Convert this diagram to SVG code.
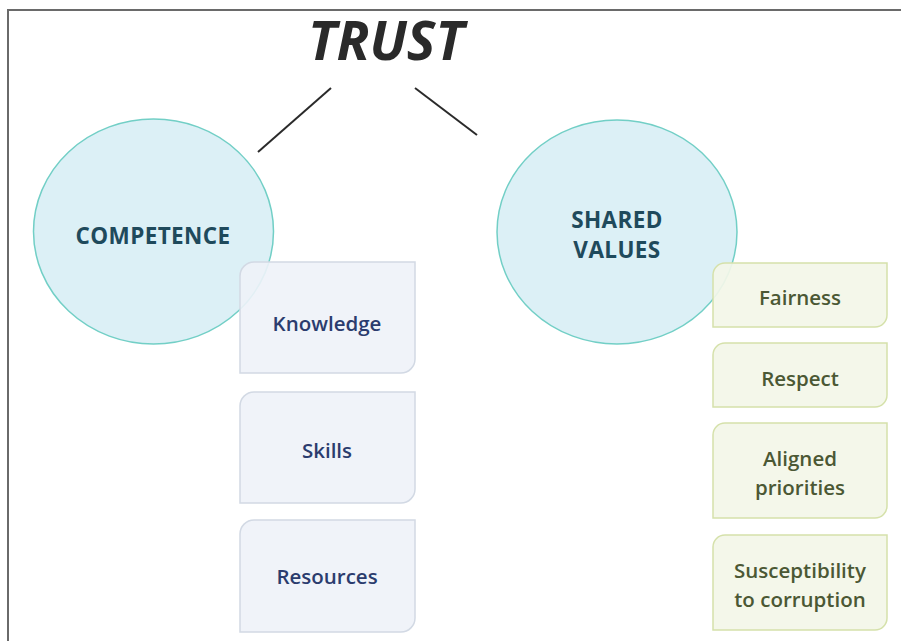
<svg xmlns="http://www.w3.org/2000/svg" width="901" height="641" viewBox="0 0 901 641">
<style>
.frame{stroke:#6a6a6a;stroke-width:2;fill:none}
.circ{fill:#dcf0f6;stroke:#72cfc6;stroke-width:1.5}
.ctext{font-family:"Open Sans","Liberation Sans",sans-serif;font-weight:700;font-size:22.5px;letter-spacing:0.4px;fill:#1f4a5c;text-anchor:middle}
.bbox{fill:#eef2f8;fill-opacity:0.9;stroke:#d2d9e4;stroke-width:1.5}
.btext{font-family:"Open Sans","Liberation Sans",sans-serif;font-weight:600;font-size:20.5px;fill:#2b3c6e;text-anchor:middle}
.gbox{fill:#f3f6e8;fill-opacity:0.92;stroke:#d5e1aa;stroke-width:1.5}
.gtext{font-family:"Open Sans","Liberation Sans",sans-serif;font-weight:600;font-size:20.5px;fill:#4b5834;text-anchor:middle}
.conn{stroke:#2a2a2a;stroke-width:2;fill:none}
</style>
<rect width="901" height="641" fill="#ffffff"/>
<path class="frame" d="M8 641 V10 H901"/>
<g id="trust">
<text x="386" y="60" font-family="Open Sans, Liberation Sans, sans-serif" font-weight="700" font-style="italic" font-size="54" fill="#2a2a2a" text-anchor="middle">TRUST</text>
</g>
<g id="connectors">
<line class="conn" x1="331" y1="88" x2="258" y2="152"/>
<line class="conn" x1="415" y1="88" x2="477" y2="135"/>
</g>
<g id="competence">
<ellipse class="circ" cx="153.5" cy="231.5" rx="120" ry="112.5"/>
<text class="ctext" x="153" y="244">COMPETENCE</text>
</g>
<g id="shared-values">
<ellipse class="circ" cx="617" cy="232" rx="120" ry="112"/>
<text class="ctext" x="617" y="228">SHARED</text>
<text class="ctext" x="617" y="258">VALUES</text>
</g>
<g id="knowledge">
<path class="bbox" d="M254 262 H415 V359 A14 14 0 0 1 401 373 H240 V276 A14 14 0 0 1 254 262 Z"/>
<text class="btext" x="327" y="331">Knowledge</text>
</g>
<g id="skills">
<path class="bbox" d="M254 392 H415 V489 A14 14 0 0 1 401 503 H240 V406 A14 14 0 0 1 254 392 Z"/>
<text class="btext" x="327" y="458">Skills</text>
</g>
<g id="resources">
<path class="bbox" d="M254 520 H415 V618 A14 14 0 0 1 401 632 H240 V534 A14 14 0 0 1 254 520 Z"/>
<text class="btext" x="327" y="584">Resources</text>
</g>
<g id="fairness">
<path class="gbox" d="M725 263 H887 V315 A12 12 0 0 1 875 327 H713 V275 A12 12 0 0 1 725 263 Z"/>
<text class="gtext" x="800" y="305">Fairness</text>
</g>
<g id="respect">
<path class="gbox" d="M725 343 H887 V395 A12 12 0 0 1 875 407 H713 V355 A12 12 0 0 1 725 343 Z"/>
<text class="gtext" x="800" y="386">Respect</text>
</g>
<g id="aligned-priorities">
<path class="gbox" d="M725 423 H887 V506 A12 12 0 0 1 875 518 H713 V435 A12 12 0 0 1 725 423 Z"/>
<text class="gtext" x="800" y="466">Aligned</text>
<text class="gtext" x="800" y="495">priorities</text>
</g>
<g id="susceptibility">
<path class="gbox" d="M725 535 H887 V618 A12 12 0 0 1 875 630 H713 V547 A12 12 0 0 1 725 535 Z"/>
<text class="gtext" x="800" y="578">Susceptibility</text>
<text class="gtext" x="800" y="607">to corruption</text>
</g>
</svg>
